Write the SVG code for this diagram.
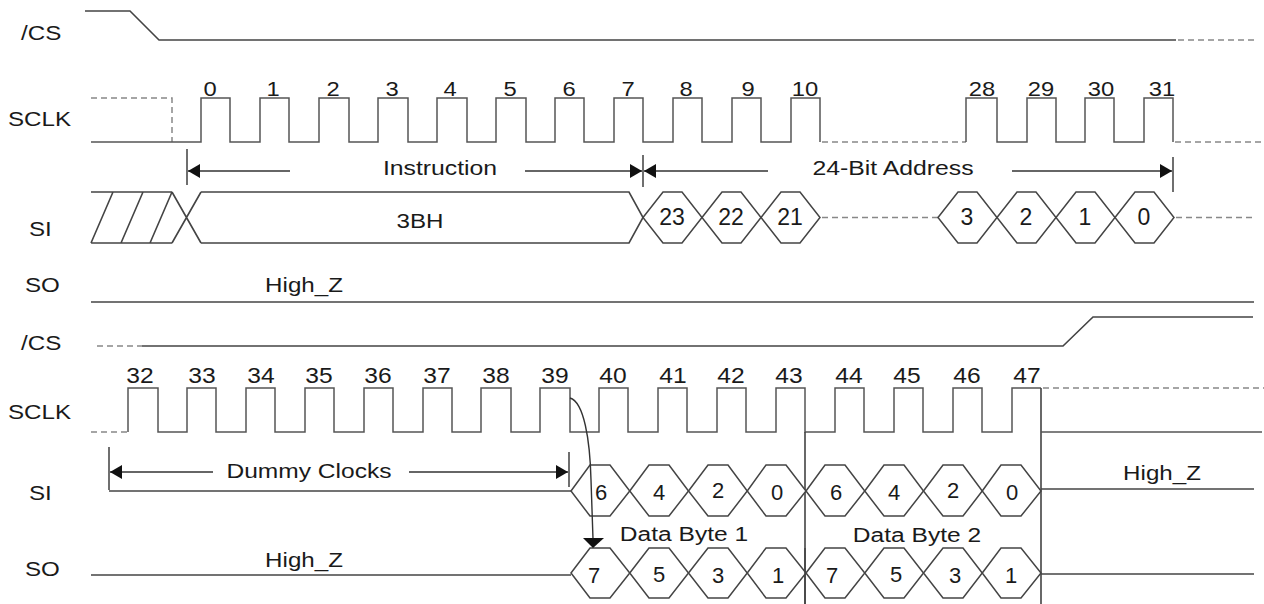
<svg xmlns="http://www.w3.org/2000/svg" width="1264" height="604" viewBox="0 0 1264 604">
<style>
.t{font-family:"Liberation Sans",Arial,sans-serif;fill:#1a1a1a}
.sig{font-size:21px}
.num{font-size:19.5px;text-anchor:middle}
.num2{font-size:22px;text-anchor:middle}
.hx{font-size:22px;text-anchor:middle}
.lab{font-size:21px;text-anchor:middle}
.w{fill:none;stroke:#444;stroke-width:1.6}
.ck{fill:none;stroke:#555;stroke-width:1.5}
.d{fill:none;stroke:#888;stroke-width:1.5;stroke-dasharray:6 4}
.hex{fill:#fff;stroke:#444;stroke-width:1.5;stroke-linejoin:miter}
.dim{fill:none;stroke:#333;stroke-width:1.4}
</style>
<defs>
<marker id="ah" viewBox="0 -7 12 14" refX="12" refY="0" markerWidth="12" markerHeight="14" markerUnits="userSpaceOnUse" orient="auto">
<path d="M0,-7 L12,0 L0,7 Z" fill="#111"/>
</marker>
</defs>
<rect width="1264" height="604" fill="#fff"/>

<!-- signal names -->
<g id="names">
<text class="t sig" transform="translate(21 40) scale(1.15 1)">/CS</text>
<text class="t sig" transform="translate(8 126) scale(1.15 1)">SCLK</text>
<text class="t sig" transform="translate(29 236) scale(1.15 1)">SI</text>
<text class="t sig" transform="translate(25 292) scale(1.15 1)">SO</text>
<text class="t sig" transform="translate(21 350) scale(1.15 1)">/CS</text>
<text class="t sig" transform="translate(8 419) scale(1.15 1)">SCLK</text>
<text class="t sig" transform="translate(29 500) scale(1.15 1)">SI</text>
<text class="t sig" transform="translate(25 576) scale(1.15 1)">SO</text>
</g>

<!-- top /CS -->
<g id="cs1">
<path class="w" d="M85,11 H130 L159,40 H1176"/>
<path class="d" d="M1178,40 H1254"/>
</g>

<!-- top SCLK -->
<g id="sclk1">
<path class="d" d="M91,98 H172 V142"/>
<path class="ck" d="M91,142 H201 V98 H230 V142 H260 V98 H289 V142 H319 V98 H349 V142 H378 V98 H408 V142 H437 V98 H467 V142 H496 V98 H526 V142 H555 V98 H584 V142 H614 V98 H643 V142 H673 V98 H702 V142 H732 V98 H761 V142 H791 V98 H820 V142"/>
<path class="d" d="M822,142 H966"/>
<path class="ck" d="M966,142 V98 H997 V142 H1027 V98 H1056 V142 H1085 V98 H1114 V142 H1144 V98 H1173 V142"/>
<path class="d" d="M1175,142 H1262"/>
<g class="t num">
<text transform="translate(210 96) scale(1.22 1)">0</text>
<text transform="translate(273 96) scale(1.22 1)">1</text>
<text transform="translate(333 96) scale(1.22 1)">2</text>
<text transform="translate(392 96) scale(1.22 1)">3</text>
<text transform="translate(450 96) scale(1.22 1)">4</text>
<text transform="translate(510 96) scale(1.22 1)">5</text>
<text transform="translate(569 96) scale(1.22 1)">6</text>
<text transform="translate(628 96) scale(1.22 1)">7</text>
<text transform="translate(686 96) scale(1.22 1)">8</text>
<text transform="translate(748 96) scale(1.22 1)">9</text>
<text transform="translate(805 96) scale(1.22 1)">10</text>
<text transform="translate(982 96) scale(1.22 1)">28</text>
<text transform="translate(1041 96) scale(1.22 1)">29</text>
<text transform="translate(1101 96) scale(1.22 1)">30</text>
<text transform="translate(1162 96) scale(1.22 1)">31</text>
</g>
</g>

<!-- top SI -->
<g id="si1">
<path class="w" d="M91,192 H172 M91,243 H172 M91,243 L113,192 M121,243 L143,192 M150,243 L172,192 M172,192 L201,243 M172,243 L201,192"/>
<path class="w" d="M201,192 H629 L643,217.5 L629,243 H201"/>
<text class="t lab" transform="translate(420 228) scale(1.15 1)">3BH</text>
<path class="hex" d="M643,217.5 L663,192 L682,192 L702,217.5 L682,243 L663,243 Z"/>
<path class="hex" d="M702,217.5 L722,192 L741,192 L761,217.5 L741,243 L722,243 Z"/>
<path class="hex" d="M761,217.5 L781,192 L800,192 L820,217.5 L800,243 L781,243 Z"/>
<path class="d" d="M822,217.5 H938"/>
<path class="hex" d="M938,217.5 L958,192 L977,192 L997,217.5 L977,243 L958,243 Z"/>
<path class="hex" d="M997,217.5 L1017,192 L1036,192 L1056,217.5 L1036,243 L1017,243 Z"/>
<path class="hex" d="M1056,217.5 L1076,192 L1095,192 L1115,217.5 L1095,243 L1076,243 Z"/>
<path class="hex" d="M1115,217.5 L1135,192 L1154,192 L1174,217.5 L1154,243 L1135,243 Z"/>
<path class="d" d="M1176,217.5 H1254"/>
<g class="t hx" style="font-size:23px">
<text x="672" y="225">23</text>
<text x="731" y="225">22</text>
<text x="790" y="225">21</text>
<text x="967" y="225">3</text>
<text x="1026" y="225">2</text>
<text x="1085" y="225">1</text>
<text x="1144" y="225">0</text>
</g>
</g>

<!-- top SO -->
<g id="so1">
<path class="w" d="M91,302 H1254"/>
<text class="t lab" transform="translate(304 292) scale(1.15 1)">High_Z</text>
</g>

<!-- bottom /CS -->
<g id="cs2">
<path class="d" d="M97,346 H142"/>
<path class="w" d="M142,346 H1063 L1093,317 H1253"/>
</g>

<!-- bottom SCLK -->
<g id="sclk2">
<path class="d" d="M91,432 H128"/>
<path class="ck" d="M128,432 V388 H158 V432 H187 V388 H216 V432 H246 V388 H275 V432 H305 V388 H334 V432 H364 V388 H393 V432 H423 V388 H452 V432 H481 V388 H511 V432 H540 V388 H570 V432 H599 V388 H628 V432 H658 V388 H687 V432 H717 V388 H746 V432 H776 V388 H805 V432 H835 V388 H864 V432 H894 V388 H923 V432 H953 V388 H982 V432 H1012 V388 H1041"/>
<path class="w" d="M805,432 V604 M1041,388 V604"/>
<path class="ck" d="M1041,432 H1262"/>
<path class="d" d="M1043,388 H1264"/>
<g class="t num2">
<text transform="translate(140 383) scale(1.12 1)">32</text>
<text transform="translate(202 383) scale(1.12 1)">33</text>
<text transform="translate(261 383) scale(1.12 1)">34</text>
<text transform="translate(319 383) scale(1.12 1)">35</text>
<text transform="translate(378 383) scale(1.12 1)">36</text>
<text transform="translate(437 383) scale(1.12 1)">37</text>
<text transform="translate(496 383) scale(1.12 1)">38</text>
<text transform="translate(555 383) scale(1.12 1)">39</text>
<text transform="translate(613 383) scale(1.12 1)">40</text>
<text transform="translate(673 383) scale(1.12 1)">41</text>
<text transform="translate(731 383) scale(1.12 1)">42</text>
<text transform="translate(789 383) scale(1.12 1)">43</text>
<text transform="translate(849 383) scale(1.12 1)">44</text>
<text transform="translate(907 383) scale(1.12 1)">45</text>
<text transform="translate(967 383) scale(1.12 1)">46</text>
<text transform="translate(1027 383) scale(1.12 1)">47</text>
</g>
</g>

<!-- bottom SI -->
<g id="si2">
<path class="w" d="M109,491 H571"/>
<path class="hex" d="M571,491 L590,465 L610,465 L629.75,491 L610,516 L590,516 Z"/>
<path class="hex" d="M629.75,491 L649,465 L669,465 L688.5,491 L669,516 L649,516 Z"/>
<path class="hex" d="M688.5,491 L708,465 L728,465 L747.25,491 L728,516 L708,516 Z"/>
<path class="hex" d="M747.25,491 L766,465 L786,465 L806,491 L786,516 L766,516 Z"/>
<path class="hex" d="M806,491 L825,465 L845,465 L864.75,491 L845,516 L825,516 Z"/>
<path class="hex" d="M864.75,491 L884,465 L904,465 L923.5,491 L904,516 L884,516 Z"/>
<path class="hex" d="M923.5,491 L943,465 L963,465 L982.25,491 L963,516 L943,516 Z"/>
<path class="hex" d="M982.25,491 L1001,465 L1021,465 L1041,491 L1021,516 L1001,516 Z"/>
<path class="w" d="M1041,489 H1254"/>
<g class="t hx">
<text x="601" y="500">6</text>
<text x="659" y="500">4</text>
<text x="718" y="498">2</text>
<text x="777" y="500">0</text>
<text x="836" y="500">6</text>
<text x="894" y="500">4</text>
<text x="953" y="498">2</text>
<text x="1012" y="500">0</text>
</g>
<text class="t lab" transform="translate(1162 480) scale(1.15 1)">High_Z</text>
<text class="t lab" transform="translate(684 541) scale(1.17 1)">Data Byte 1</text>
<text class="t lab" transform="translate(917 542) scale(1.17 1)">Data Byte 2</text>
</g>

<!-- bottom SO -->
<g id="so2">
<path class="w" d="M91,575 H571"/>
<text class="t lab" transform="translate(304 567) scale(1.15 1)">High_Z</text>
<path class="hex" d="M571,573 L590,548 L610,548 L629.75,573 L610,598 L590,598 Z"/>
<path class="hex" d="M629.75,573 L649,548 L669,548 L688.5,573 L669,598 L649,598 Z"/>
<path class="hex" d="M688.5,573 L708,548 L728,548 L747.25,573 L728,598 L708,598 Z"/>
<path class="hex" d="M747.25,573 L766,548 L786,548 L806,573 L786,598 L766,598 Z"/>
<path class="hex" d="M806,573 L825,548 L845,548 L864.75,573 L845,598 L825,598 Z"/>
<path class="hex" d="M864.75,573 L884,548 L904,548 L923.5,573 L904,598 L884,598 Z"/>
<path class="hex" d="M923.5,573 L943,548 L963,548 L982.25,573 L963,598 L943,598 Z"/>
<path class="hex" d="M982.25,573 L1001,548 L1021,548 L1041,573 L1021,598 L1001,598 Z"/>
<path class="w" d="M1041,574 H1254"/>
<g class="t hx">
<text x="594" y="583">7</text>
<text x="659" y="582">5</text>
<text x="718" y="583">3</text>
<text x="778" y="583">1</text>
<text x="832" y="583">7</text>
<text x="896" y="582">5</text>
<text x="955" y="583">3</text>
<text x="1011" y="583">1</text>
</g>
<path class="w" d="M805,548 V604"/>
</g>

<!-- connectors: dimension arrows and causal arrow -->
<g id="connectors">
<path class="dim" d="M187,149 V185 M643,155 V187 M1173,157 V192"/>
<path class="dim" d="M290,171 H188" marker-end="url(#ah)"/>
<path class="dim" d="M525,171 H642" marker-end="url(#ah)"/>
<path class="dim" d="M768,171 H644" marker-end="url(#ah)"/>
<path class="dim" d="M1012,171 H1172" marker-end="url(#ah)"/>
<text class="t lab" transform="translate(440 175) scale(1.18 1)">Instruction</text>
<text class="t lab" transform="translate(893 175) scale(1.18 1)">24-Bit Address</text>
<path class="dim" d="M109,447 V490 M569,452 V487"/>
<path class="dim" d="M213,472 H110" marker-end="url(#ah)"/>
<path class="dim" d="M409,472 H568" marker-end="url(#ah)"/>
<text class="t lab" transform="translate(309 478) scale(1.17 1)">Dummy Clocks</text>
<path class="dim" d="M570,398 C584,402 590,440 591,480 L593,539"/>
<path d="M583,538 L604,538 L593,548 Z" fill="#111"/>
</g>
</svg>
